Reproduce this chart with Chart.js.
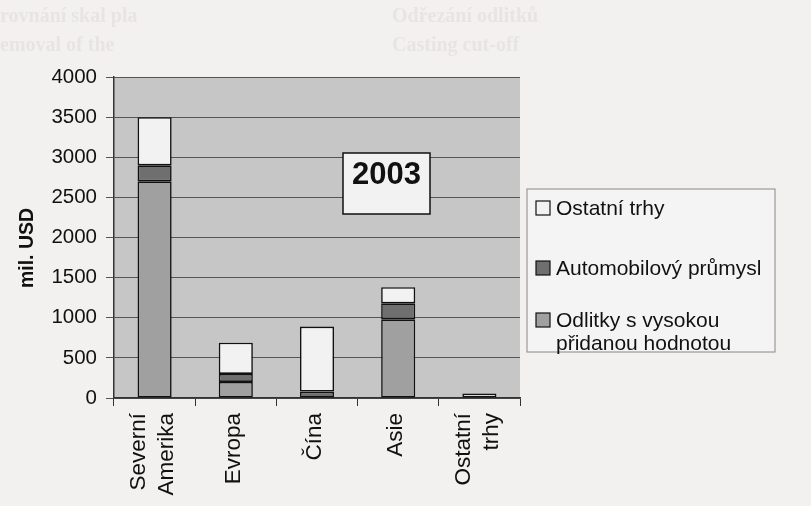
<!DOCTYPE html>
<html lang="cs">
  <head>
    <meta charset="UTF-8" />
    <title>2003</title>
    <script src="https://cdn.jsdelivr.net/npm/chart.js@4.4.1/dist/chart.umd.min.js"></script>
    <style>
      body { margin: 0; background: #f3f1ef; }
      #wrap { width: 811px; height: 506px; }
    </style>
  </head>
  <body>
    <div id="wrap"><canvas id="myChart" width="811" height="506"></canvas></div>

    <script>
      const categories = [["Severní", "Amerika"], "Evropa", "Čína", "Asie", ["Ostatní", "trhy"]];
      const odlitky = [2700, 200, null, 980, null];
      const automobil = [200, 100, 80, 200, null];
      const ostatni = [600, 390, 810, 200, 55];
      const yTicks = [0, 500, 1000, 1500, 2000, 2500, 3000, 3500, 4000];
      const yearLabel = "2003";
      const yTitle = "mil. USD";

      const font = "'Liberation Sans', Arial, sans-serif";

      // gray plot background + faint scan text at the top
      const backdrop = {
        id: "backdrop",
        beforeDraw(chart) {
          const c = chart.ctx, a = chart.chartArea;
          c.save();
          c.fillStyle = "#e7e4e1";
          c.font = "bold 20px 'Liberation Serif', serif";
          c.textBaseline = "middle";
          c.fillText("rovnání skal pla", 0, 17);
          c.fillText("emoval of the", 0, 46);
          c.fillText("Odřezání odlitků", 392, 17);
          c.fillText("Casting cut-off", 392, 46);
          c.fillStyle = "#c6c6c6";
          c.fillRect(a.left, a.top, a.right - a.left, a.bottom - a.top);
          c.restore();
        },
      };

      // category labels (vertical, two-line ones centred on the tick), axis title, year box, legend
      const extras = {
        id: "extras",
        afterDraw(chart) {
          const c = chart.ctx;
          const xs = chart.scales.x;
          c.save();
          c.fillStyle = "#111";
          c.font = "22.5px " + font;
          c.textAlign = "right";
          c.textBaseline = "middle";
          categories.forEach((lab, i) => {
            const lines = Array.isArray(lab) ? lab : [lab];
            const cx = xs.getPixelForValue(i);
            lines.forEach((t, k) => {
              const x = cx - 2 + (k - (lines.length - 1) / 2) * 28;
              c.save();
              c.translate(x, 413);
              c.rotate(-Math.PI / 2);
              c.fillText(t, 0, 0);
              c.restore();
            });
          });

          c.save();
          c.translate(28, 248);
          c.rotate(-Math.PI / 2);
          c.textAlign = "center";
          c.font = "bold 19.5px " + font;
          c.fillText(yTitle, 0, 0);
          c.restore();

          c.fillStyle = "#f2f2f2";
          c.strokeStyle = "#111";
          c.lineWidth = 1.5;
          c.fillRect(343, 153, 87, 61);
          c.strokeRect(343, 153, 87, 61);
          c.fillStyle = "#111";
          c.font = "bold 31px " + font;
          c.textAlign = "center";
          c.fillText(yearLabel, 386.5, 175);

          c.fillStyle = "#f4f4f4";
          c.strokeStyle = "#888";
          c.lineWidth = 1;
          c.fillRect(527, 189, 248, 163);
          c.strokeRect(527, 189, 248, 163);

          const rows = [208, 268, 320];
          const ds = chart.data.datasets.slice().reverse();
          c.font = "21px " + font;
          c.textAlign = "left";
          ds.forEach((d, i) => {
            const y = rows[i];
            c.fillStyle = d.backgroundColor;
            c.strokeStyle = "#111";
            c.lineWidth = 1.2;
            c.fillRect(536, y - 7, 14, 14);
            c.strokeRect(536, y - 7, 14, 14);
            c.fillStyle = "#111";
            d.label.split("\n").forEach((t, k) => c.fillText(t, 556, y + 1 + k * 23));
          });
          c.restore();
        },
      };

      const ctx = document.getElementById("myChart").getContext("2d");
      const myChart = new Chart(ctx, {
        type: "bar",
        data: {
          labels: categories,
          datasets: [
            { label: "Odlitky s vysokou\npřidanou hodnotou", data: odlitky, backgroundColor: "#a0a0a0" },
            { label: "Automobilový průmysl", data: automobil, backgroundColor: "#6f6f6f" },
            { label: "Ostatní trhy", data: ostatni, backgroundColor: "#f2f2f2" },
          ].map((d) => ({
            ...d,
            borderColor: "#111",
            borderWidth: 1.6,
            borderSkipped: false,
            barPercentage: 0.42,
            categoryPercentage: 1,
          })),
        },
        options: {
          responsive: false,
          animation: false,
          layout: { padding: { left: 0, top: 77, right: 291, bottom: 0 } },
          plugins: { legend: { display: false }, tooltip: { enabled: false } },
          scales: {
            x: {
              stacked: true,
              afterFit: (s) => { s.height = 108; },
              grid: { offset: true, drawOnChartArea: false, tickLength: 8, color: "#333" },
              border: { color: "#333", width: 1.5 },
              ticks: { display: false },
            },
            y: {
              stacked: true,
              min: 0,
              max: 4000,
              afterFit: (s) => { s.width = 114; },
              afterBuildTicks: (s) => { s.ticks = yTicks.map((v) => ({ value: v })); },
              grid: { color: "#555", tickLength: 8 },
              border: { color: "#333", width: 1.5 },
              ticks: {
                padding: 9,
                color: "#111",
                font: { family: font, size: 20.5 },
                callback: (v) => String(v),
              },
            },
          },
        },
        plugins: [backdrop, extras],
      });
    </script>
  </body>
</html>
